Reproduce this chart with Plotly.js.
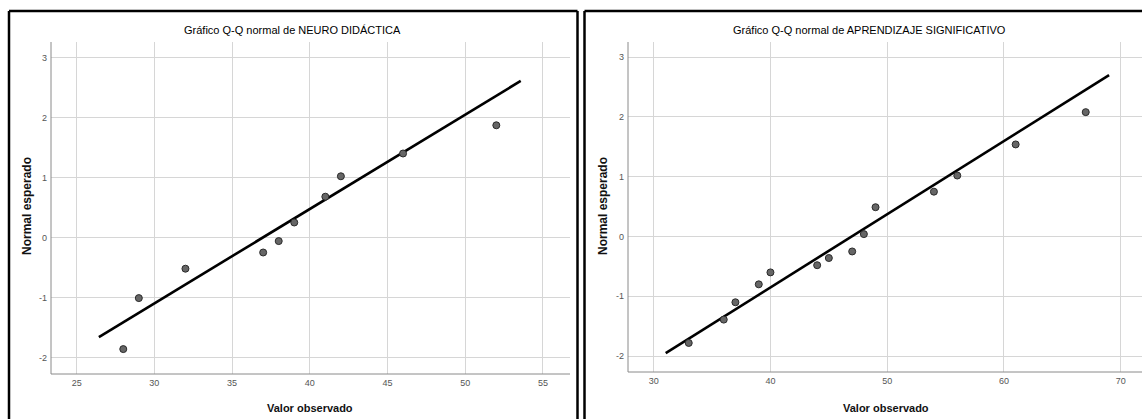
<!DOCTYPE html>
<html>
<head>
<meta charset="utf-8">
<script src="https://cdn.plot.ly/plotly-3.0.1.min.js"></script>
<style>html,body{margin:0;padding:0;background:#fff;}#chart{width:1142px;height:419px;}</style>
</head>
<body>
<div id="chart"></div>
<script>
// NEURO DIDÁCTICA
const neuroObserved = [28, 29, 32, 37, 38, 39, 41, 42, 46, 52];
const neuroExpected = [-1.86, -1.01, -0.52, -0.25, -0.06, 0.25, 0.68, 1.02, 1.40, 1.87];
const neuroLineX = [26.43, 53.57];
const neuroLineY = [-1.66, 2.61];

// APRENDIZAJE SIGNIFICATIVO
const aprenObserved = [33, 36, 37, 39, 40, 44, 45, 47, 48, 49, 54, 56, 61, 67];
const aprenExpected = [-1.78, -1.39, -1.10, -0.80, -0.60, -0.48, -0.36, -0.25, 0.04, 0.49, 0.75, 1.02, 1.54, 2.08];
const aprenLineX = [31.03, 69.0];
const aprenLineY = [-1.95, 2.70];

const titles = ["Gráfico Q-Q normal de NEURO DIDÁCTICA", "Gráfico Q-Q normal de APRENDIZAJE SIGNIFICATIVO"];
const xTitle = "Valor observado";
const yTitle = "Normal esperado";
const neuroXTicks = [25, 30, 35, 40, 45, 50, 55];
const aprenXTicks = [30, 40, 50, 60, 70];
const yTicks = [-2, -1, 0, 1, 2, 3];
const yTickText = ["-2", "-1", "0", "1", "2", "3"];

const W = 1142, H = 419;
const px = v => v / W;
const py = v => 1 - v / H;

const narrow = '"Liberation Sans Narrow", "Arial Narrow", Arial, sans-serif';
const sans = '"Liberation Sans", Arial, sans-serif';

const marker = {size: 7, color: '#666', line: {color: '#2a2a2a', width: 1}};
const line = {color: '#000', width: 2.6};

const traces = [
  {x: neuroLineX, y: neuroLineY, mode: 'lines', line: line, xaxis: 'x', yaxis: 'y', hoverinfo: 'skip'},
  {x: neuroObserved, y: neuroExpected, mode: 'markers', marker: marker, xaxis: 'x', yaxis: 'y'},
  {x: aprenLineX, y: aprenLineY, mode: 'lines', line: line, xaxis: 'x2', yaxis: 'y2', hoverinfo: 'skip'},
  {x: aprenObserved, y: aprenExpected, mode: 'markers', marker: marker, xaxis: 'x2', yaxis: 'y2'}
];

const axBase = {
  showgrid: true, gridcolor: '#d6d6d6', gridwidth: 1,
  zeroline: false, showline: false, ticks: '',
  tickfont: {family: narrow, size: 9, color: '#555'}
};

const layout = {
  width: W, height: H,
  margin: {l: 0, r: 0, t: 0, b: 0},
  paper_bgcolor: '#fff', plot_bgcolor: '#fff',
  showlegend: false,
  xaxis: Object.assign({}, axBase, {domain: [px(51), px(570)], range: [23.35, 56.74], tickvals: neuroXTicks, anchor: 'y', ticklabelstandoff: 2}),
  yaxis: Object.assign({}, axBase, {domain: [py(374), py(42)], range: [-2.275, 3.258], tickvals: yTicks, ticktext: yTickText, anchor: 'x', ticklabelstandoff: 3}),
  xaxis2: Object.assign({}, axBase, {domain: [px(628), 1], range: [27.80, 71.82], tickvals: aprenXTicks, anchor: 'y2', ticklabelstandoff: 2}),
  yaxis2: Object.assign({}, axBase, {domain: [py(372), py(42)], range: [-2.266, 3.253], tickvals: yTicks, ticktext: yTickText, anchor: 'x2', ticklabelstandoff: 3}),
  shapes: [
    // axis lines
    {type: 'line', xref: 'paper', yref: 'paper', x0: px(51), x1: px(51), y0: py(374), y1: py(42), line: {color: '#8a8a8a', width: 1}},
    {type: 'line', xref: 'paper', yref: 'paper', x0: px(51), x1: px(570), y0: py(374), y1: py(374), line: {color: '#8a8a8a', width: 1}},
    {type: 'line', xref: 'paper', yref: 'paper', x0: px(628), x1: px(628), y0: py(372), y1: py(42), line: {color: '#8a8a8a', width: 1}},
    {type: 'line', xref: 'paper', yref: 'paper', x0: px(628), x1: 1, y0: py(372), y1: py(372), line: {color: '#8a8a8a', width: 1}},
    // frames
    {type: 'line', xref: 'paper', yref: 'paper', x0: px(9), x1: px(9), y0: 0, y1: py(11), line: {color: '#000', width: 2.5}},
    {type: 'line', xref: 'paper', yref: 'paper', x0: px(9), x1: px(577.5), y0: py(11), y1: py(11), line: {color: '#000', width: 2.5}},
    {type: 'line', xref: 'paper', yref: 'paper', x0: px(577.5), x1: px(577.5), y0: 0, y1: py(11), line: {color: '#000', width: 2.5}},
    {type: 'line', xref: 'paper', yref: 'paper', x0: px(584.5), x1: px(584.5), y0: 0, y1: py(11), line: {color: '#000', width: 2.5}},
    {type: 'line', xref: 'paper', yref: 'paper', x0: px(584.5), x1: 1, y0: py(11), y1: py(11), line: {color: '#000', width: 2.5}}
  ],
  annotations: [
    {text: titles[0], xref: 'paper', yref: 'paper', x: px(292), y: py(30), xanchor: 'center', yanchor: 'middle', showarrow: false, font: {family: narrow, size: 11, color: '#000'}},
    {text: titles[1], xref: 'paper', yref: 'paper', x: px(869), y: py(30), xanchor: 'center', yanchor: 'middle', showarrow: false, font: {family: narrow, size: 11, color: '#000'}},
    {text: xTitle, xref: 'paper', yref: 'paper', x: px(310), y: py(408), xanchor: 'center', yanchor: 'middle', showarrow: false, font: {family: sans, size: 11, color: '#111', weight: 'bold'}},
    {text: xTitle, xref: 'paper', yref: 'paper', x: px(886), y: py(408), xanchor: 'center', yanchor: 'middle', showarrow: false, font: {family: sans, size: 11, color: '#111', weight: 'bold'}},
    {text: yTitle, xref: 'paper', yref: 'paper', x: px(27), y: py(206), xanchor: 'center', yanchor: 'middle', textangle: -90, showarrow: false, font: {family: sans, size: 12, color: '#111', weight: 'bold'}},
    {text: yTitle, xref: 'paper', yref: 'paper', x: px(603), y: py(206), xanchor: 'center', yanchor: 'middle', textangle: -90, showarrow: false, font: {family: sans, size: 12, color: '#111', weight: 'bold'}}
  ]
};

Plotly.newPlot('chart', traces, layout, {displayModeBar: false, staticPlot: true});
</script>
</body>
</html>
